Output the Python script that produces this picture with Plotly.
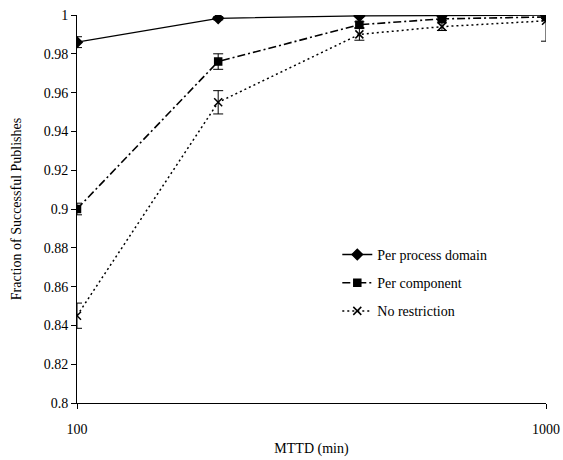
import plotly.graph_objects as go

mttd = [100, 200, 400, 600, 1000]

per_domain = [0.986, 0.9983, 0.9995, 0.9998, 0.9999]
per_domain_err = [0.0028, 0.0008, 0.0004, 0.0003, 0.0002]

per_component = [0.900, 0.976, 0.995, 0.998, 0.999]
per_component_err = [0.003, 0.004, 0.0015, 0.001, 0.0008]

no_restriction = [0.845, 0.955, 0.990, 0.994, 0.997]
no_restriction_err = [0.0065, 0.006, 0.003, 0.002, 0.0105]

ytick_vals = [0.8, 0.82, 0.84, 0.86, 0.88, 0.9, 0.92, 0.94, 0.96, 0.98, 1.0]
ytick_text = ["0.8", "0.82", "0.84", "0.86", "0.88", "0.9", "0.92", "0.94", "0.96", "0.98", "1"]

FONT = "Times New Roman"

fig = go.Figure()

series = [
    ("Per process domain", per_domain, per_domain_err, "solid", "diamond", 8, 1.3),
    ("Per component", per_component, per_component_err, "8px,3px,2px,3px", "square", 7, 1.6),
    ("No restriction", no_restriction, no_restriction_err, "2px,3px", "x-thin-open", 8, 1.5),
]

for i, (name, vals, errs, dash, sym, size, lw) in enumerate(series):
    fig.add_trace(go.Scatter(
        x=mttd, y=vals, name=name, mode="lines+markers",
        legendgroup=f"g{i}",
        line=dict(color="black", width=lw, dash=dash),
        marker=dict(symbol=sym, size=size, color="black",
                    line=dict(color="black", width=1.5)),
        error_y=dict(type="data", array=errs, visible=True,
                     color="black", thickness=1, width=5),
        cliponaxis=True,
    ))

fig.update_layout(
    width=563, height=460,
    margin=dict(l=77, r=17, t=15, b=57, autoexpand=False),
    plot_bgcolor="white", paper_bgcolor="white",
    font=dict(family=FONT, size=14, color="black"),
    showlegend=True,
    legend=dict(x=0.555, y=0.423, xanchor="left", yanchor="top",
                bgcolor="rgba(0,0,0,0)", tracegroupgap=7,
                traceorder="grouped",
                font=dict(family=FONT, size=14, color="black")),
    xaxis=dict(type="log", range=[2, 3], automargin=False,
               tickvals=[100, 1000], ticktext=["100", "1000"],
               showline=True, linecolor="black", linewidth=1,
               ticks="outside", ticklen=5, tickcolor="black",
               ticklabelstandoff=8,
               showgrid=False, zeroline=False,
               title=dict(text="MTTD (min)", standoff=7,
                          font=dict(family=FONT, size=14))),
    yaxis=dict(range=[0.8, 1.0], automargin=False,
               tickvals=ytick_vals, ticktext=ytick_text,
               showline=True, linecolor="black", linewidth=1,
               ticks="outside", ticklen=5, tickcolor="black",
               showgrid=False, zeroline=False,
               title=dict(text="Fraction of Successful Publishes", standoff=18,
                          font=dict(family=FONT, size=14))),
)

fig.write_html("out.html")
